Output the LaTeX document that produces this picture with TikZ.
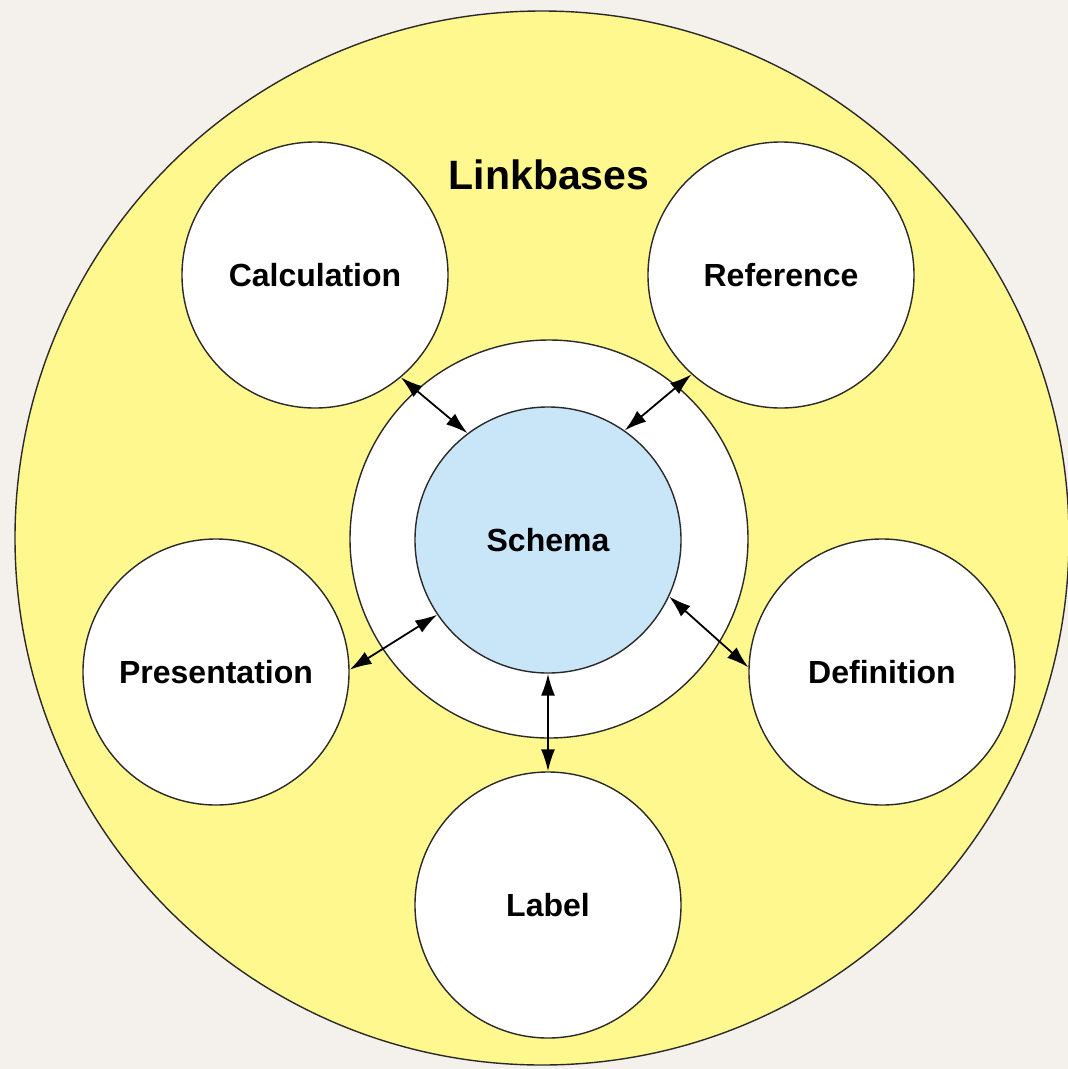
\documentclass[tikz,border=0pt]{standalone}
\usepackage{fontspec}
\setmainfont{Liberation Sans}
\usetikzlibrary{arrows.meta}
\definecolor{bgc}{HTML}{F4F0EC}
\definecolor{yel}{HTML}{FFF88F}
\definecolor{blu}{HTML}{C9E6F8}
\definecolor{edge}{HTML}{2A2A2A}
\begin{document}
\begin{tikzpicture}[x=1pt,y=-1pt,
  bubble/.style={circle, draw=edge, line width=1.4pt, fill=white, minimum size=266pt, inner sep=0pt, font=\fontsize{32}{36}\selectfont\bfseries},
  link/.style={{Latex[length=22pt,width=14pt]}-{Latex[length=22pt,width=14pt]}, line width=1.8pt, black}]
\useasboundingbox (0,0) rectangle (1068,1069);
\fill[bgc] (0,0) rectangle (1068,1069);
\node[circle, draw=edge, line width=1.4pt, fill=yel, minimum size=1054pt, inner sep=0pt] (outer) at (542,538) {};
\node[circle, draw=edge, line width=1.4pt, fill=white, minimum size=398pt, inner sep=0pt] (ring) at (549,539) {};
\node[bubble, fill=blu] (schema) at (548,540) {Schema};
\node[bubble] (calc) at (315,275) {Calculation};
\node[bubble] (ref) at (781,275) {Reference};
\node[bubble] (pres) at (216,672) {Presentation};
\node[bubble] (def) at (882,672) {Definition};
\node[bubble] (label) at (548,905) {Label};
\node[font=\fontsize{41}{45}\selectfont\bfseries] (title) at (549,175) {Linkbases};
\draw[link] (calc.-50.6) -- (schema.127.8);
\draw[link] (ref.228.5) -- (schema.55.7);
\draw[link] (pres.1) -- (schema.214);
\draw[link] (def.178) -- (schema.-25.8);
\draw[link] (label.north) -- (schema.south);
\end{tikzpicture}
\end{document}
